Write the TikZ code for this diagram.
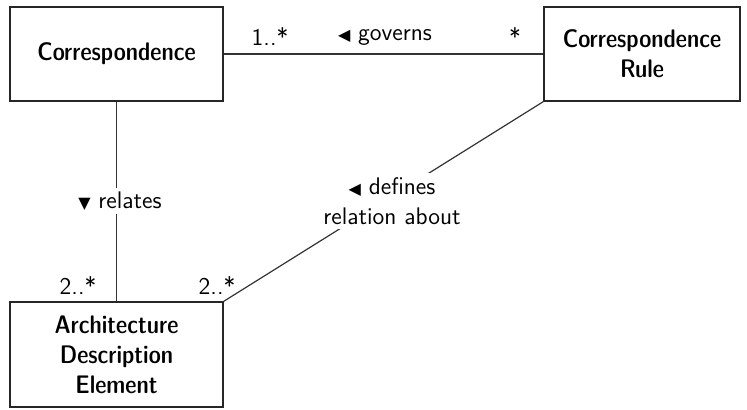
\documentclass[tikz,border=0pt]{standalone}
\usepackage{fontspec}
\newfontfamily\symfont{DejaVu Sans}
\newfontfamily\classfont{lmsansdemicond10-regular.otf}
\begin{document}
\begin{tikzpicture}[x=0.5pt,y=-0.5pt,
  font=\sffamily\fontsize{12}{15}\selectfont,
  classbox/.style={draw=black!85, line width=0.6pt, fill=white, align=center, inner sep=0pt,
    font=\classfont\fontsize{12.7}{15}\selectfont},
  assoc/.style={draw=black!80, line width=0.6pt},
  lbl/.style={align=center, inner sep=1pt},
  lblfill/.style={lbl, fill=white, inner sep=2pt}]
\useasboundingbox (0,0) rectangle (747,410);
\newcommand{\tril}{{\symfont\fontsize{8}{8}\selectfont\char"25C0}}
\newcommand{\trid}{{\symfont\fontsize{8}{8}\selectfont\char"25BC}}

% classes
\node[classbox, minimum width=213*0.5pt, minimum height=94*0.5pt] (corr) at (116.5,54) {Correspondence};
\node[classbox, minimum width=196*0.5pt, minimum height=94*0.5pt] (rule) at (642,54) {Correspondence\\Rule};
\node[classbox, minimum width=213*0.5pt, minimum height=105*0.5pt] (ade) at (116.5,354.5) {Architecture\\Description\\Element};

% associations
\draw[assoc] (corr.east) -- (rule.west);
\draw[assoc] (corr.south) -- (ade.north);
\draw[assoc] (ade.north east) -- (rule.south west);

% association labels and multiplicities
\node[lbl] (m1) at (270,37) {1..*};
\node[lbl] (gov) at (385,37) {\tril\ governs};
\node[lbl] (m2) at (515,37) {*};
\node[lblfill] (rel) at (120,201) {\trid\ relates};
\node[lbl] (m3) at (78,285) {2..*};
\node[lbl] (m4) at (217,285) {2..*};
\node[lblfill] (def) at (392,201) {\tril\ defines\\relation about};
\end{tikzpicture}
\end{document}
